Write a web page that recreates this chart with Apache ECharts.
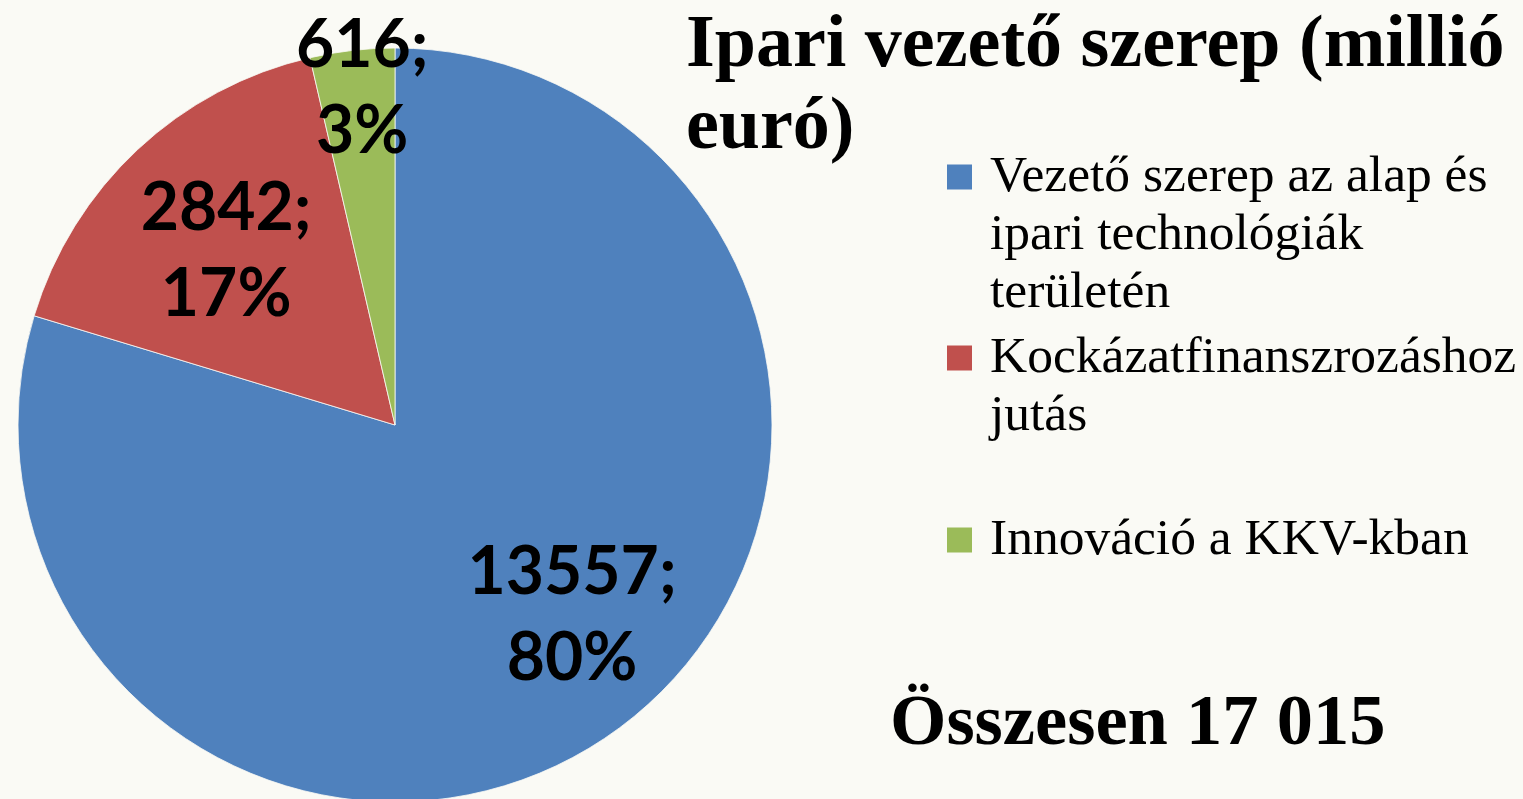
<!DOCTYPE html>
<html>
<head>
<meta charset="utf-8">
<script src="https://cdn.jsdelivr.net/npm/echarts@6/dist/echarts.min.js"></script>
<style>
    html, body { margin: 0; padding: 0; background: #fafaf5; }
    #chart { width: 1523px; height: 799px; }
</style>
</head>
<body>
<div id="chart"></div>
<script>
const categories = [
    'Vezető szerep az alap és ipari technológiák területén',
    'Kockázatfinanszrozáshoz jutás',
    'Innováció a KKV-kban'
]
const legendLabels = [
    'Vezető szerep az alap és\nipari technológiák\nterületén',
    'Kockázatfinanszrozáshoz\njutás',
    'Innováció a KKV-kban'
]
const values = [13557, 2842, 616]
const colors = ['#4f81bd', '#c0504d', '#9bbb59']
const titleText = 'Ipari vezető szerep (millió\neuró)'
const totalText = 'Összesen 17 015'

// label nudges from the default "inside" spot
const labelShift = [[63, 37], [-38, -33], [-11, -146]]
const legendTops = [177, 358, 540]
const lineH = 58

const myChart = echarts.init(document.getElementById('chart'))

// blank lines in front so the square sits level with the first line
const legends = categories.map((name, i) => {
    const lines = legendLabels[i].split('\n').length
    const lead = '\n'.repeat(lines - 1)
    return {
        orient: 'vertical',
        left: 947,
        top: legendTops[i] - lineH / 2 - (lines - 1) * lineH,
        padding: 0,
        itemWidth: 25,
        itemHeight: 25,
        icon: 'rect',
        selectedMode: false,
        data: [name],
        formatter: () => lead + legendLabels[i],
        itemStyle: { borderWidth: 0 },
        textStyle: {
            fontFamily: 'Liberation Serif',
            fontSize: 51.5,
            lineHeight: lineH,
            color: '#000',
            padding: [0, 0, 0, 13]
        }
    }
})

const option = {
    backgroundColor: '#fafaf5',
    animation: false,
    color: colors,
    title: [
        {
            text: titleText,
            left: 686,
            top: 6,
            padding: 0,
            textStyle: {
                fontFamily: 'Liberation Serif',
                fontWeight: 'bold',
                fontSize: 74,
                lineHeight: 82,
                color: '#000'
            }
        },
        {
            text: totalText,
            left: 890,
            top: 685,
            padding: 0,
            textStyle: {
                fontFamily: 'Liberation Serif',
                fontWeight: 'bold',
                fontSize: 72.5,
                lineHeight: 80,
                color: '#000'
            }
        }
    ],
    legend: legends,
    series: [
        {
            type: 'pie',
            center: [395, 425],
            radius: 377,
            startAngle: 90,
            clockwise: true,
            percentPrecision: 0,
            avoidLabelOverlap: false,
            itemStyle: {
                borderColor: '#fafaf5',
                borderWidth: 0.8
            },
            label: {
                show: true,
                position: 'inside',
                formatter: '{c};\n{d}%',
                fontFamily: 'Lato',
                fontWeight: 'bold',
                fontSize: 66,
                lineHeight: 86,
                color: '#000',
                align: 'center'
            },
            labelLine: { show: false },
            labelLayout: (params) => ({
                dx: labelShift[params.dataIndex][0],
                dy: labelShift[params.dataIndex][1]
            }),
            data: categories.map((name, i) => ({ name: name, value: values[i] }))
        }
    ]
}

myChart.setOption(option)
</script>
</body>
</html>
